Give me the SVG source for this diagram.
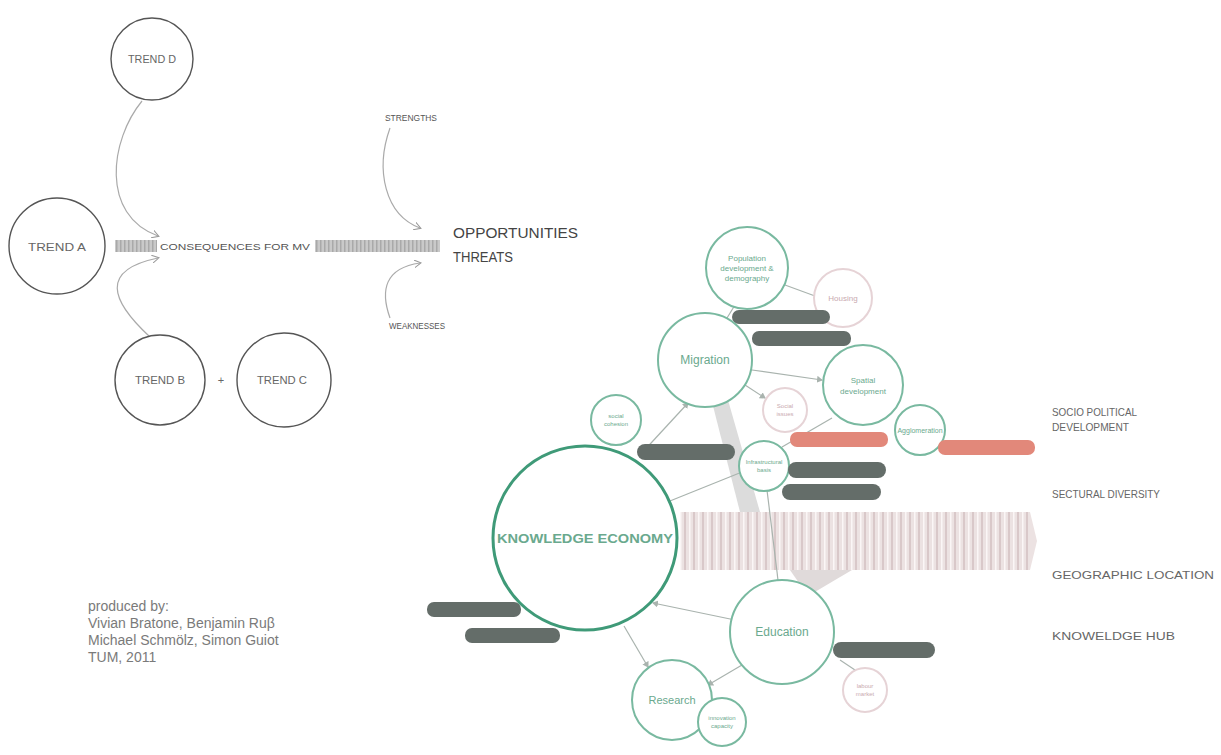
<svg xmlns="http://www.w3.org/2000/svg" width="1221" height="755" viewBox="0 0 1221 755">
<style>
.trend{fill:#fff;stroke:#555;stroke-width:1.4}
.tl{font-family:"Liberation Sans",Arial,sans-serif;font-size:11px;fill:#666;text-anchor:middle}
.sm{font-family:"Liberation Sans",Arial,sans-serif;font-size:9px;fill:#555}
.big{font-family:"Liberation Sans",Arial,sans-serif;font-size:14px;fill:#444}
.curve{fill:none;stroke:#aaa;stroke-width:1.2}
.gc{fill:#fff;stroke:#79b9a0;stroke-width:2}
.pc{fill:#fff;stroke:#e6d3d6;stroke-width:2}
.gt{font-family:"Liberation Sans",Arial,sans-serif;fill:#6aa98e;text-anchor:middle}
.pt{font-family:"Liberation Sans",Arial,sans-serif;fill:#c9aab0;text-anchor:middle}
.dp{fill:#646d69}
.sp{fill:#e2887a}
.lnk{fill:none;stroke:#a9b3ae;stroke-width:1.2}
.side{font-family:"Liberation Sans",Arial,sans-serif;font-size:11px;fill:#666}
.credit{font-family:"Liberation Sans",Arial,sans-serif;font-size:14px;fill:#7a7a7a}
</style>
<defs>
<pattern id="hatch" width="4" height="10" patternUnits="userSpaceOnUse">
<rect width="4" height="10" fill="#c9c9c9"/><rect width="1.5" height="10" fill="#a9a9a9"/>
</pattern>
<pattern id="band" width="9" height="58" patternUnits="userSpaceOnUse">
<rect width="9" height="58" fill="#ece2e2"/><rect x="0" width="2" height="58" fill="#d9c8c9"/><rect x="5" width="1.5" height="58" fill="#fbf6f6"/>
</pattern>
<marker id="ah" markerWidth="8" markerHeight="8" refX="6" refY="4" orient="auto" markerUnits="userSpaceOnUse">
<path d="M0,0 L7,4 L0,8" fill="none" stroke="#999" stroke-width="1"/>
</marker>
<marker id="ag" markerWidth="7" markerHeight="7" refX="5" refY="3.5" orient="auto" markerUnits="userSpaceOnUse">
<path d="M0,0 L6,3.5 L0,7 z" fill="#a9b3ae"/>
</marker>
</defs>
<rect width="1221" height="755" fill="#fff"/>

<g id="connectors">
<path class="curve" d="M142,101 C110,140 100,215 158,236" marker-end="url(#ah)"/>
<path class="curve" d="M150,337 C110,300 100,270 158,258" marker-end="url(#ah)"/>
<path class="curve" d="M390,128 C375,170 385,215 420,228" marker-end="url(#ah)"/>
<path class="curve" d="M390,318 C380,290 385,268 420,263" marker-end="url(#ah)"/>
<rect x="115" y="240" width="42" height="12" fill="url(#hatch)"/>
<rect x="315" y="240" width="125" height="12" fill="url(#hatch)"/>

<polygon points="712,402 728,400 760,512 740,512" fill="#dcdcdc"/>
<polygon points="790,570 852,570 808,596" fill="#e0dada"/>
<rect x="680" y="512" width="350" height="58" fill="url(#band)"/>
<polygon points="1030,512 1037,541 1030,570" fill="#ece2e2"/>

<line class="lnk" x1="727" y1="318" x2="735" y2="305"/>
<line class="lnk" x1="785" y1="285" x2="815" y2="296"/>
<line class="lnk" x1="752" y1="370" x2="822" y2="380" marker-end="url(#ag)"/>
<line class="lnk" x1="745" y1="385" x2="765" y2="398" marker-end="url(#ag)"/>
<line class="lnk" x1="640" y1="455" x2="688" y2="403" marker-end="url(#ag)"/>
<line class="lnk" x1="742" y1="472" x2="655" y2="507" marker-end="url(#ag)"/>
<line class="lnk" x1="782" y1="447" x2="832" y2="418"/>
<line class="lnk" x1="767" y1="490" x2="778" y2="580"/>
<line class="lnk" x1="735" y1="620" x2="653" y2="603" marker-end="url(#ag)"/>
<line class="lnk" x1="624" y1="626" x2="648" y2="667" marker-end="url(#ag)"/>
<line class="lnk" x1="742" y1="665" x2="708" y2="685" marker-end="url(#ag)"/>
<line class="lnk" x1="840" y1="660" x2="855" y2="670"/>
</g>

<g id="trendD"><circle class="trend" cx="152" cy="59" r="41"/><text class="tl" x="152" y="63" textLength="48" lengthAdjust="spacingAndGlyphs">TREND D</text></g>
<g id="trendA"><circle class="trend" cx="57" cy="246" r="48"/><text class="tl" x="57" y="251" font-size="12" textLength="58" lengthAdjust="spacingAndGlyphs">TREND A</text></g>
<g id="trendB"><circle class="trend" cx="160" cy="380" r="45"/><text class="tl" x="160" y="384" textLength="50" lengthAdjust="spacingAndGlyphs">TREND B</text></g>
<g id="plus"><text class="tl" x="221" y="384" font-size="10">+</text></g>
<g id="trendC"><circle class="trend" cx="284" cy="380" r="47"/><text class="tl" x="282" y="384" textLength="50" lengthAdjust="spacingAndGlyphs">TREND C</text></g>
<g id="consequences"><text class="sm" x="160" y="250" textLength="150" lengthAdjust="spacingAndGlyphs">CONSEQUENCES FOR MV</text></g>
<g id="strengths"><text class="sm" x="385" y="121" textLength="52" lengthAdjust="spacingAndGlyphs">STRENGTHS</text></g>
<g id="weaknesses"><text class="sm" x="389" y="329" textLength="56" lengthAdjust="spacingAndGlyphs">WEAKNESSES</text></g>
<g id="opportunities"><text class="big" x="453" y="238" textLength="125" lengthAdjust="spacingAndGlyphs">OPPORTUNITIES</text></g>
<g id="threats"><text class="big" x="453" y="262" font-size="13" textLength="60" lengthAdjust="spacingAndGlyphs">THREATS</text></g>

<g id="population"><circle class="gc" cx="747" cy="268" r="41"/><text class="gt" font-size="8"><tspan x="747" y="261">Population</tspan><tspan x="747" y="271">development &amp;</tspan><tspan x="747" y="281">demography</tspan></text></g>
<g id="housing"><circle class="pc" cx="843" cy="298" r="29"/><text class="pt" x="843" y="301" font-size="8">Housing</text></g>
<g id="pill1"><rect class="dp" x="732" y="310" width="98" height="14" rx="7"/></g>
<g id="pill2"><rect class="dp" x="752" y="331" width="99" height="15" rx="7"/></g>
<g id="migration"><circle class="gc" cx="705" cy="360" r="47"/><text class="gt" x="705" y="364" font-size="12">Migration</text></g>
<g id="spatial"><circle class="gc" cx="863" cy="385" r="40"/><text class="gt" font-size="8"><tspan x="863" y="383">Spatial</tspan><tspan x="863" y="394">development</tspan></text></g>
<g id="social"><circle class="pc" cx="785" cy="410" r="22"/><text class="pt" font-size="6"><tspan x="785" y="408">Social</tspan><tspan x="785" y="416">issues</tspan></text></g>
<g id="smallLeft"><circle class="gc" cx="616" cy="420" r="25" stroke-width="1.6"/><text class="gt" font-size="6"><tspan x="616" y="418">social</tspan><tspan x="616" y="426">cohesion</tspan></text></g>
<g id="agglo"><circle class="gc" cx="920" cy="430" r="25" stroke-width="1.6"/><text class="gt" x="920" y="433" font-size="7">Agglomeration</text></g>
<g id="salmon1"><rect class="sp" x="790" y="432" width="98" height="15" rx="7"/></g>
<g id="salmon2"><rect class="sp" x="938" y="440" width="97" height="15" rx="7"/></g>
<g id="pillLeft"><rect class="dp" x="637" y="444" width="98" height="16" rx="8"/></g>
<g id="infra"><circle class="gc" cx="764" cy="466" r="25" stroke-width="1.6"/><text class="gt" font-size="6"><tspan x="764" y="464">Infrastructural</tspan><tspan x="764" y="472">basis</tspan></text></g>
<g id="pill3"><rect class="dp" x="788" y="462" width="98" height="16" rx="8"/></g>
<g id="pill4"><rect class="dp" x="782" y="484" width="99" height="16" rx="8"/></g>
<g id="knowledgeEconomy"><circle cx="585" cy="538" r="92" fill="#fff" stroke="#3f9a78" stroke-width="3"/><text class="gt" x="585" y="543" font-size="13" font-weight="bold" fill="#4f9f80" textLength="176" lengthAdjust="spacingAndGlyphs">KNOWLEDGE ECONOMY</text></g>
<g id="education"><circle class="gc" cx="782" cy="632" r="52"/><text class="gt" x="782" y="636" font-size="12">Education</text></g>
<g id="research"><circle class="gc" cx="672" cy="700" r="40"/><text class="gt" x="672" y="704" font-size="11">Research</text></g>
<g id="innovation"><circle class="gc" cx="722" cy="722" r="24" stroke-width="1.6"/><text class="gt" font-size="6"><tspan x="722" y="720">innovation</tspan><tspan x="722" y="728">capacity</tspan></text></g>
<g id="pillL1"><rect class="dp" x="427" y="602" width="94" height="15" rx="7"/></g>
<g id="pillL2"><rect class="dp" x="465" y="628" width="95" height="15" rx="7"/></g>
<g id="pillEdu"><rect class="dp" x="833" y="642" width="102" height="16" rx="8"/></g>
<g id="labour"><circle class="pc" cx="865" cy="690" r="22" stroke="#e3e3e3"/><text class="pt" font-size="6" fill="#aaa"><tspan x="865" y="688">labour</tspan><tspan x="865" y="696">market</tspan></text></g>

<g id="sideLabels">
<text class="side" x="1052" y="416" textLength="85" lengthAdjust="spacingAndGlyphs">SOCIO POLITICAL</text>
<text class="side" x="1052" y="431" textLength="77" lengthAdjust="spacingAndGlyphs">DEVELOPMENT</text>
<text class="side" x="1052" y="498" textLength="108" lengthAdjust="spacingAndGlyphs">SECTURAL DIVERSITY</text>
<text class="side" x="1052" y="579" textLength="162" lengthAdjust="spacingAndGlyphs">GEOGRAPHIC LOCATION</text>
<text class="side" x="1052" y="640" textLength="123" lengthAdjust="spacingAndGlyphs">KNOWELDGE HUB</text>
</g>

<g id="credits">
<text class="credit" x="88" y="611">produced by:</text>
<text class="credit" x="88" y="628">Vivian Bratone, Benjamin Ruβ</text>
<text class="credit" x="88" y="645">Michael Schmölz, Simon Guiot</text>
<text class="credit" x="88" y="662">TUM, 2011</text>
</g>
</svg>
